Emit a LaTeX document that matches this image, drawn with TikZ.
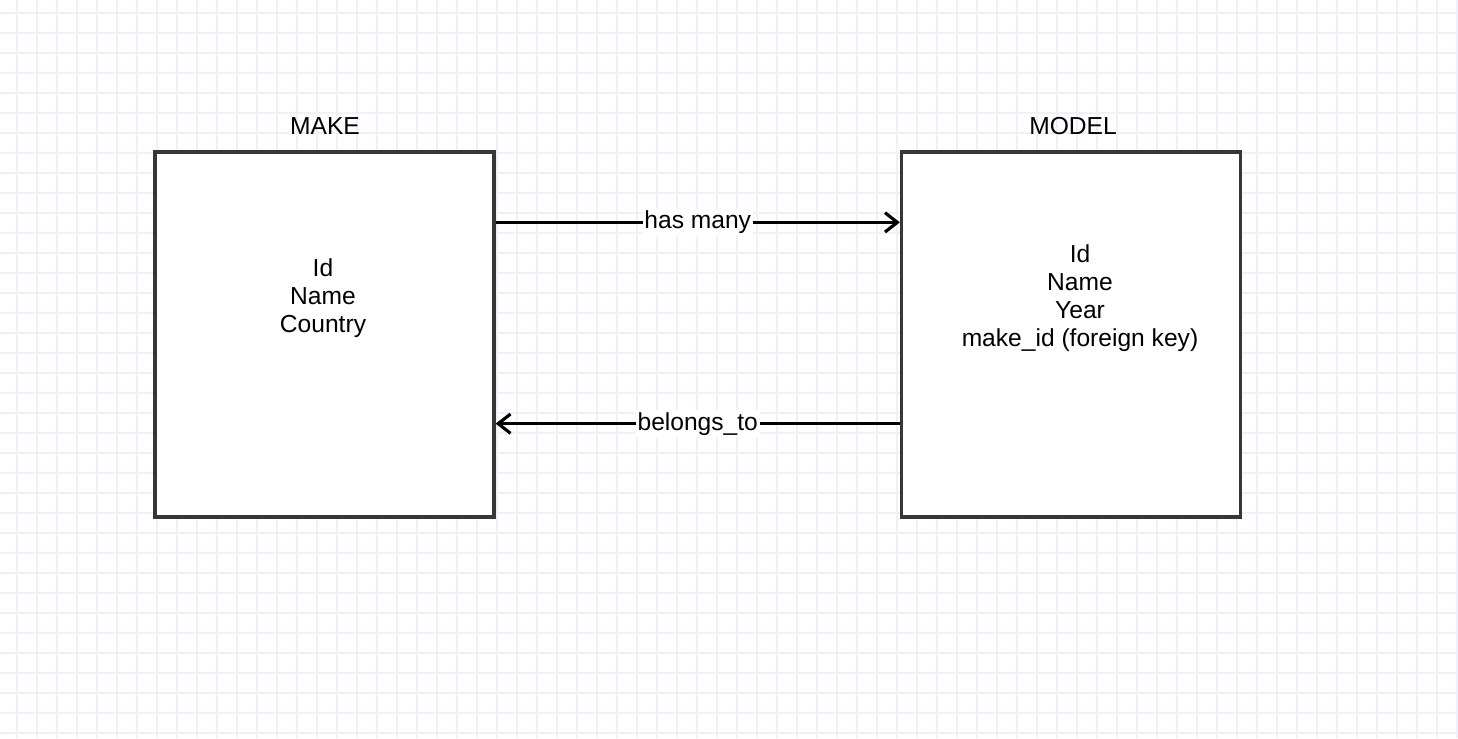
\documentclass[tikz,border=0pt]{standalone}
\usepackage{fontspec}
\setmainfont{Liberation Sans}
\usetikzlibrary{arrows.meta}

\definecolor{gridblue}{RGB}{240,240,253}
\definecolor{boxgray}{RGB}{55,55,55}

\tikzset{
    gridline/.style = {gridblue, line width = 0.6pt},
    entity/.style = {draw = boxgray, fill = white, line width = 1.9pt, minimum width = 6.78cm, minimum height = 7.3cm, inner sep = 0pt},
    entitytitle/.style = {font = \fontsize{14pt}{15.9pt}\selectfont},
    fields/.style = {align = center, font = \fontsize{14pt}{15.9pt}\selectfont},
    link/.style = {black, line width = 1.8pt, -{Straight Barb[length = 7pt, width = 11pt, line width = 1.8pt]}},
    linktext/.style = {fill = white, inner sep = 1pt, font = \fontsize{14pt}{15.9pt}\selectfont}
}

\begin{document}
\begin{tikzpicture}[x = 0.02cm, y = -0.02cm]
    \useasboundingbox (0,0) rectangle (1458,738);
    \fill[white] (0,0) rectangle (1458,738);
    
    % background grid
    \foreach \gx in {17,37,...,1457}
        \draw[gridline] (\gx,0) -- (\gx,738);
    \foreach \gy in {13,33,...,733}
        \draw[gridline] (0,\gy) -- (1458,\gy);
    
    % tables
    \node[entity] (make) at (324.5,334.5) {};
    \node[entity] (model) at (1071,334.5) {};
    
    \node[entitytitle] (maketitle) at (325,126) {MAKE};
    \node[entitytitle] (modeltitle) at (1073,126) {MODEL};
    
    \node[fields] (makefields) at (323,298) {Id\\Name\\Country};
    \node[fields] (modelfields) at (1080,298) {Id\\Name\\Year\\make\_id (foreign key)};
    
    % relations
    \draw[link] ([yshift = -1.44cm]make.north east) -- ([yshift = -1.44cm]model.north west) node[midway, linktext] {has many};
    \draw[link] ([yshift = 1.9cm]model.south west) -- ([yshift = 1.9cm]make.south east) node[midway, linktext] {belongs\_to};
\end{tikzpicture}
\end{document}
